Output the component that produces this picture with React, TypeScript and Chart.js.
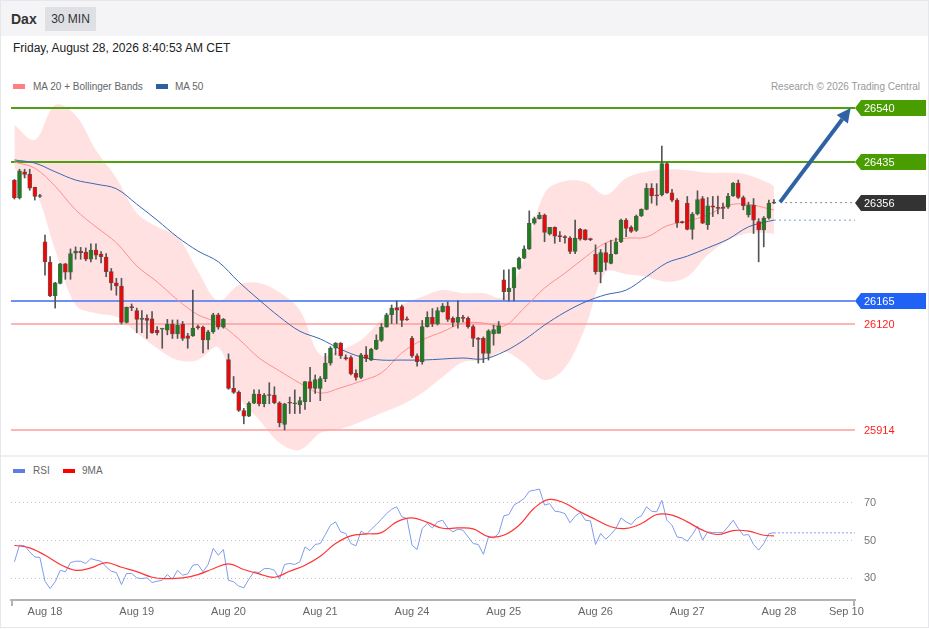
import React, { useEffect, useRef } from "react";
import Chart from "chart.js/auto";

// ---------- DATA ----------
const opens = [26400,26365,26416,26411,26386,26368,26280,26240,26175,26199,26237,26221,26258,26262,26260,26246,26264,26256,26250,26222,26200,26194,26123,26153,26146,26129,26131,26130,26108,26110,26108,26120,26101,26120,26097,26097,26114,26114,26089,26105,26138,26114,26051,25995,25987,25952,25941,25966,25984,25965,25983,25982,25967,25925,25967,25965,25963,25969,26008,25995,25995,26014,26044,26073,26083,26055,26055,26024,26016,26060,26050,26071,26088,26114,26138,26152,26154,26129,26092,26058,26047,26115,26133,26120,26144,26155,26131,26123,26133,26131,26115,26092,26092,26063,26101,26102,26206,26183,26190,26228,26248,26266,26316,26325,26332,26295,26308,26292,26290,26287,26261,26304,26303,26285,26256,26222,26259,26238,26257,26280,26322,26308,26302,26330,26343,26384,26371,26371,26432,26375,26361,26319,26355,26304,26334,26364,26313,26350,26347,26347,26347,26369,26394,26366,26332,26351,26319,26303,26326,26355];
const highs = [26401,26421,26421,26421,26386,26372,26293,26251,26201,26238,26238,26266,26270,26269,26268,26276,26276,26261,26257,26228,26209,26209,26153,26159,26151,26146,26138,26144,26115,26111,26129,26128,26128,26125,26102,26186,26118,26116,26108,26141,26141,26131,26062,26018,25990,25956,25969,25992,25992,25985,26006,25998,25969,25966,25978,25992,25978,26008,26036,26021,26018,26063,26076,26084,26084,26060,26058,26031,26063,26076,26073,26099,26121,26141,26157,26165,26157,26134,26096,26062,26127,26144,26150,26152,26160,26163,26134,26165,26137,26134,26118,26094,26095,26109,26118,26125,26225,26226,26230,26250,26272,26340,26328,26337,26334,26308,26309,26300,26292,26290,26322,26306,26304,26287,26274,26265,26277,26283,26287,26324,26325,26311,26332,26344,26393,26393,26393,26466,26434,26382,26364,26320,26368,26337,26379,26368,26366,26368,26369,26355,26374,26395,26400,26369,26357,26364,26325,26329,26361,26362];
const lows = [26363,26363,26404,26380,26361,26366,26215,26173,26151,26198,26207,26207,26246,26246,26243,26241,26246,26239,26212,26186,26176,26120,26122,26146,26103,26103,26092,26102,26099,26073,26099,26092,26092,26088,26073,26096,26110,26064,26071,26102,26110,26112,25993,25985,25950,25926,25940,25965,25961,25959,25965,25965,25920,25914,25946,25946,25946,25954,25969,25985,25971,26008,26040,26060,26053,26050,26021,26011,26014,26047,26049,26070,26086,26114,26121,26121,26115,26127,26055,26038,26042,26114,26115,26118,26143,26125,26115,26112,26124,26112,26076,26044,26045,26050,26079,26102,26167,26165,26165,26226,26247,26265,26314,26324,26280,26293,26277,26280,26277,26257,26257,26283,26283,26282,26217,26200,26225,26237,26256,26278,26290,26298,26300,26329,26342,26355,26351,26369,26374,26358,26308,26316,26303,26285,26332,26315,26304,26329,26334,26325,26345,26368,26364,26342,26328,26296,26241,26270,26324,26354];
const closes = [26365,26418,26411,26384,26368,26369,26241,26175,26200,26237,26221,26257,26262,26259,26246,26264,26254,26251,26222,26200,26194,26123,26153,26152,26129,26130,26127,26103,26103,26110,26120,26101,26118,26092,26092,26112,26113,26089,26105,26138,26114,26129,25995,25987,25952,25941,25966,25984,25965,25982,25981,25967,25928,25965,25966,25967,25971,26008,25995,26012,26014,26044,26073,26083,26058,26052,26023,26016,26060,26053,26071,26089,26114,26138,26151,26147,26127,26128,26058,26047,26115,26133,26120,26146,26155,26129,26123,26133,26131,26115,26092,26090,26063,26107,26109,26117,26183,26190,26230,26248,26266,26316,26325,26332,26298,26308,26291,26290,26288,26261,26287,26285,26284,26284,26222,26259,26240,26256,26280,26322,26306,26300,26330,26343,26384,26369,26369,26432,26375,26361,26317,26317,26304,26334,26362,26316,26350,26347,26345,26345,26369,26394,26366,26350,26351,26322,26303,26326,26355,26356];

// indicator samples (candle index -> value)
const bandIdx = [0,4,8,12,16,20,24,28,32,36,40,44,48,52,56,60,64,68,72,76,80,84,88,92,96,100,104,108,112,116,120,124,128,132,136,140,144,148,149];
const bbUpper = [26507,26478,26546,26526,26458,26404,26336,26309,26289,26223,26165,26196,26200,26182,26147,26060,26070,26089,26128,26157,26173,26186,26180,26180,26173,26248,26375,26398,26396,26371,26404,26416,26421,26419,26414,26414,26410,26394,26388];
const bbLower = [26423,26381,26264,26157,26141,26134,26103,26073,26050,26050,26075,25978,25934,25889,25875,25908,25916,25930,25947,25963,25986,26017,26046,26050,26066,26044,26011,26035,26114,26221,26217,26212,26202,26212,26254,26283,26297,26297,26295];
const ma20 = [26435,26423,26388,26342,26309,26278,26233,26202,26167,26138,26122,26091,26054,26029,26005,25986,25996,26009,26025,26064,26089,26105,26122,26122,26116,26151,26190,26219,26250,26278,26287,26289,26311,26320,26332,26351,26353,26344,26342];
const ma50 = [26439,26433,26416,26400,26392,26383,26353,26322,26289,26262,26241,26202,26167,26134,26106,26091,26071,26056,26050,26050,26050,26052,26054,26052,26066,26089,26118,26143,26163,26177,26186,26212,26239,26252,26268,26285,26309,26320,26322];

const rsi = [38.7,47.5,47.2,44.0,41.3,41.0,28.4,24.5,28.1,34.2,
 33.4,38.3,39.0,39.0,37.8,40.4,39.6,39.0,36.0,33.7,
 33.0,26.6,32.5,32.5,30.2,29.8,30.2,27.7,28.4,28.9,
 31.9,29.5,34.2,31.6,32.3,36.9,37.3,33.4,37.3,45.8,
 42.2,45.2,28.9,28.1,25.8,24.9,29.5,33.4,33.0,35.1,
 35.1,34.2,29.5,37.3,37.8,37.3,38.7,46.6,44.7,47.9,
 48.4,53.2,58.1,59.9,54.6,53.7,48.4,47.2,55.0,53.2,
 56.0,58.5,61.3,64.3,66.6,67.9,62.6,61.7,47.5,45.2,
 56.4,59.0,56.7,59.9,60.8,56.7,54.6,56.0,55.5,51.9,
 48.4,47.9,42.7,51.9,51.4,53.7,63.1,63.8,68.8,70.5,
 72.3,76.2,76.7,77.3,68.8,69.6,65.6,65.2,64.3,59.4,
 62.9,64.9,60.8,60.4,47.9,53.7,50.7,53.2,56.4,62.0,
 59.9,58.5,61.7,63.1,67.9,65.6,65.2,71.4,60.8,58.1,
 51.9,51.4,49.6,53.2,57.6,50.2,54.6,54.2,54.2,54.2,
 57.3,60.8,56.4,52.8,53.2,47.9,44.9,48.4,53.7,54.1];
const ma9Idx = [0,3,6,9,12,15,18,21,24,27,30,33,36,39,42,45,48,51,54,57,60,63,66,69,72,75,78,81,84,87,90,93,96,99,102,105,108,111,114,117,120,123,126,129,132,135,138,141,144,147,149];
const ma9 = [47.5,46.1,42.2,37.3,34.2,35.5,38.3,35.8,33.5,30.5,29.8,30.2,31.9,35.0,37.6,34.6,32.3,30.5,33.7,36.9,41.7,48.4,52.5,53.5,54.2,59.9,62.0,59.6,56.5,56.7,56.2,52.1,52.8,58.1,67.3,71.8,69.8,65.2,61.2,57.3,56.4,59.0,63.8,63.5,59.9,55.5,53.2,55.3,55.0,52.8,52.5];

const dayIdx = [6, 24, 42, 60, 78, 96, 114, 132, 150, 163.2];
const dayLabels = ["Aug 18", "Aug 19", "Aug 20", "Aug 21", "Aug 24", "Aug 25", "Aug 26", "Aug 27", "Aug 28", "Sep 10"];
const rsiTicks = [30, 50, 70];

const levelValues = [26540, 26435, 26165, 26120, 25914];
const levelColors = ["#4fa00e", "#4fa00e", "#6f90ee", "#ff9d9d", "#ff9d9d"];
const levelWidths = [2, 2, 2, 1.5, 1.5];
const tagValues = [26540, 26435, 26356, 26165];
const tagColors = ["#4a9d00", "#4a9d00", "#333333", "#1f62f5"];
const textLevels = [26120, 25914];

const lastPrice = 26356;
const lastMa50 = 26322;
const lastRsi = 54.1;
const arrowFrom = [150.2, 26357];
const arrowTo = [164.05, 26540];

const xMin = -0.67;
const xMax = 164.9;
const priceMin = 25865.4;
const priceMax = 26565.3;
const rsiMin = 18.42;
const rsiMax = 78.95;

const FONT = '"Liberation Sans", Arial, Helvetica, sans-serif';

export default function App() {
  const mainRef = useRef<HTMLCanvasElement | null>(null);
  const rsiRef = useRef<HTMLCanvasElement | null>(null);

  useEffect(() => {
    Chart.defaults.font.family = FONT;
    const idx = closes.map((_, i) => i);
    const bodyColors = idx.map((i) => (closes[i] >= opens[i] ? "#1f7d1f" : "#e80a0a"));

    const overlay = {
      id: "overlay",
      afterDatasetsDraw(chart: any) {
        const { ctx, scales } = chart;
        const x = scales.x, y = scales.y;
        const x0 = x.getPixelForValue(arrowFrom[0]);
        const y0 = y.getPixelForValue(arrowFrom[1]);
        const x1 = x.getPixelForValue(arrowTo[0]);
        const y1 = y.getPixelForValue(arrowTo[1]);
        const ang = Math.atan2(y1 - y0, x1 - x0);
        const hl = 14, hw = 7;
        const bx = x1 - hl * Math.cos(ang), by = y1 - hl * Math.sin(ang);
        ctx.save();
        ctx.strokeStyle = "#2f62a4";
        ctx.fillStyle = "#2f62a4";
        ctx.lineWidth = 4;
        ctx.beginPath();
        ctx.moveTo(x0, y0);
        ctx.lineTo(bx, by);
        ctx.stroke();
        ctx.beginPath();
        ctx.moveTo(x1, y1);
        ctx.lineTo(bx + hw * Math.sin(ang), by - hw * Math.cos(ang));
        ctx.lineTo(bx - hw * Math.sin(ang), by + hw * Math.cos(ang));
        ctx.closePath();
        ctx.fill();
        ctx.restore();
      },
      afterDraw(chart: any) {
        const { ctx, scales, chartArea } = chart;
        const y = scales.y;
        const left = chartArea.right;
        ctx.save();
        ctx.font = "11px " + FONT;
        ctx.textBaseline = "middle";
        tagValues.forEach((v, k) => {
          const yy = Math.round(y.getPixelForValue(v));
          ctx.fillStyle = tagColors[k];
          ctx.beginPath();
          ctx.moveTo(left, yy);
          ctx.lineTo(left + 6, yy - 8);
          ctx.lineTo(left + 71, yy - 8);
          ctx.lineTo(left + 71, yy + 8);
          ctx.lineTo(left + 6, yy + 8);
          ctx.closePath();
          ctx.fill();
          ctx.fillStyle = "#ffffff";
          ctx.fillText(String(v), left + 9, yy + 0.5);
        });
        textLevels.forEach((v) => {
          const yy = y.getPixelForValue(v);
          ctx.fillStyle = "#ff1f1f";
          ctx.fillText(String(v), left + 9, yy + 0.5);
        });
        ctx.restore();
      },
    };

    const bandPts = (arr: number[]) => bandIdx.map((i, k) => ({ x: i, y: arr[k] }));

    const levelSets = levelValues.map((v, k) => ({
      type: "line",
      data: [{ x: xMin, y: v }, { x: xMax, y: v }],
      borderColor: levelColors[k],
      borderWidth: levelWidths[k],
      pointRadius: 0,
      fill: false,
      order: 6,
    }));

    const main = new Chart(mainRef.current as HTMLCanvasElement, {
      type: "bar",
      data: {
        datasets: [
          {
            type: "line",
            data: bandPts(bbUpper),
            borderWidth: 0,
            borderColor: "rgba(0,0,0,0)",
            backgroundColor: "rgba(255,165,165,0.33)",
            fill: "+1",
            pointRadius: 0,
            tension: 0.35,
            order: 10,
          },
          {
            type: "line",
            data: bandPts(bbLower),
            borderWidth: 0,
            borderColor: "rgba(0,0,0,0)",
            fill: false,
            pointRadius: 0,
            tension: 0.35,
            order: 9,
          },
          ...levelSets,
          {
            type: "line",
            data: [{ x: arrowFrom[0], y: lastPrice }, { x: xMax, y: lastPrice }],
            borderColor: "#888888",
            borderWidth: 1,
            borderDash: [2, 3],
            pointRadius: 0,
            order: 5,
          },
          {
            type: "line",
            data: [{ x: 149, y: lastMa50 }, { x: xMax, y: lastMa50 }],
            borderColor: "#7d97d6",
            borderWidth: 1,
            borderDash: [2, 3],
            pointRadius: 0,
            order: 5,
          },
          {
            type: "line",
            data: bandPts(ma20),
            borderColor: "#ff8e8e",
            borderWidth: 1,
            pointRadius: 0,
            tension: 0.35,
            fill: false,
            order: 4,
          },
          {
            type: "line",
            data: bandPts(ma50),
            borderColor: "#3a67b0",
            borderWidth: 1,
            pointRadius: 0,
            tension: 0.35,
            fill: false,
            order: 3,
          },
          {
            type: "bar",
            data: idx.map((i) => ({ x: i, y: [lows[i], highs[i]] })),
            backgroundColor: "#555555",
            barThickness: 1,
            grouped: false,
            minBarLength: 1,
            order: 2,
          },
          {
            type: "bar",
            data: idx.map((i) => ({ x: i, y: [opens[i], closes[i]] })),
            backgroundColor: bodyColors,
            borderColor: "rgba(70,70,70,0.85)",
            borderWidth: 0.7,
            borderSkipped: false,
            barThickness: 4,
            grouped: false,
            minBarLength: 1,
            order: 1,
          },
        ] as any,
      },
      options: {
        responsive: false,
        maintainAspectRatio: false,
        animation: false,
        layout: { padding: { left: 11, right: 74, top: 0, bottom: 0 } },
        plugins: { legend: { display: false }, tooltip: { enabled: false } },
        scales: {
          x: { type: "linear", min: xMin, max: xMax, offset: false, display: false },
          y: { type: "linear", min: priceMin, max: priceMax, display: false },
        },
      } as any,
      plugins: [overlay],
    });

    const capPlugin = {
      id: "caps",
      afterDraw(chart: any) {
        const { ctx, chartArea } = chart;
        ctx.save();
        ctx.strokeStyle = "#b3b3b3";
        ctx.lineWidth = 2;
        [chartArea.left + 1, chartArea.right - 1].forEach((px: number) => {
          ctx.beginPath();
          ctx.moveTo(px, chartArea.bottom);
          ctx.lineTo(px, chartArea.bottom + 6);
          ctx.stroke();
        });
        ctx.restore();
      },
    };

    const rsiChart = new Chart(rsiRef.current as HTMLCanvasElement, {
      type: "line",
      data: {
        datasets: [
          {
            data: idx.map((i) => ({ x: i, y: rsi[i] })),
            borderColor: "#7f9bef",
            borderWidth: 1,
            pointRadius: 0,
            tension: 0,
            order: 2,
          },
          {
            data: ma9Idx.map((i, k) => ({ x: i, y: ma9[k] })),
            borderColor: "#ff3535",
            borderWidth: 1.2,
            pointRadius: 0,
            tension: 0.4,
            order: 1,
          },
          {
            data: [{ x: 149, y: lastRsi }, { x: xMax, y: lastRsi }],
            borderColor: "#aebff3",
            borderWidth: 1.5,
            borderDash: [2, 2],
            pointRadius: 0,
            order: 3,
          },
        ],
      },
      options: {
        responsive: false,
        maintainAspectRatio: false,
        animation: false,
        layout: { padding: { left: 11, right: 0, top: 0, bottom: 0 } },
        plugins: { legend: { display: false }, tooltip: { enabled: false } },
        scales: {
          x: {
            type: "linear",
            min: xMin,
            max: xMax,
            offset: false,
            grid: { display: false, drawTicks: false },
            border: { display: true, color: "#b3b3b3", width: 2 },
            afterBuildTicks: (scale: any) => {
              scale.ticks = dayIdx.map((v) => ({ value: v }));
            },
            afterFit: (scale: any) => {
              scale.height = 25;
              scale.paddingLeft = 0;
              scale.paddingRight = 0;
            },
            ticks: {
              autoSkip: false,
              maxRotation: 0,
              minRotation: 0,
              padding: 5,
              color: "#666666",
              font: { size: 11, family: FONT },
              callback: (value: any) => {
                const k = dayIdx.indexOf(value);
                return k >= 0 ? dayLabels[k] : "";
              },
            },
          },
          y: {
            type: "linear",
            position: "right",
            min: rsiMin,
            max: rsiMax,
            grid: { color: "#c4c4c4", drawTicks: false, lineWidth: 1 },
            border: { display: false, dash: [1, 3] },
            afterBuildTicks: (scale: any) => {
              scale.ticks = rsiTicks.map((v) => ({ value: v }));
            },
            afterFit: (scale: any) => {
              scale.width = 74;
              scale.paddingTop = 0;
              scale.paddingBottom = 0;
            },
            ticks: {
              padding: 9,
              color: "#777777",
              font: { size: 11, family: FONT },
              callback: (value: any) => String(value),
            },
          },
        },
      } as any,
      plugins: [capPlugin],
    });

    return () => {
      main.destroy();
      rsiChart.destroy();
    };
  }, []);

  const txt = { position: "absolute" as const, whiteSpace: "nowrap" as const };

  return (
    <div
      style={{
        position: "absolute",
        left: 0,
        top: 0,
        width: 929,
        height: 629,
        background: "#ffffff",
        fontFamily: FONT,
        overflow: "hidden",
      }}
    >
      <div style={{ position: "absolute", left: 0, top: 0, width: 929, height: 36, background: "#f4f4f6" }} />
      <div style={{ ...txt, left: 11, top: 10, fontSize: 14, fontWeight: 700, color: "#333", lineHeight: "18px" }}>Dax</div>
      <div
        style={{
          ...txt,
          left: 45,
          top: 7,
          width: 51,
          height: 24,
          background: "#dfe0e4",
          color: "#333",
          fontSize: 12,
          lineHeight: "24px",
          textAlign: "center",
        }}
      >
        30 MIN
      </div>
      <div style={{ ...txt, left: 13, top: 41, fontSize: 12, color: "#222", lineHeight: "14px" }}>
        Friday, August 28, 2026 8:40:53 AM CET
      </div>

      <div style={{ position: "absolute", left: 13, top: 84, width: 12, height: 5, background: "#ff8080" }} />
      <div style={{ ...txt, left: 33, top: 81, fontSize: 10, color: "#666", lineHeight: "12px" }}>MA 20 + Bollinger Bands</div>
      <div style={{ position: "absolute", left: 156, top: 84, width: 12, height: 5, background: "#2e5f9e" }} />
      <div style={{ ...txt, left: 175, top: 81, fontSize: 10, color: "#666", lineHeight: "12px" }}>MA 50</div>
      <div style={{ ...txt, right: 9, top: 81, fontSize: 10, color: "#999", lineHeight: "12px" }}>
        Research © 2026 Trading Central
      </div>

      <canvas
        ref={mainRef}
        width={929}
        height={360}
        style={{ position: "absolute", left: 0, top: 95, width: 929, height: 360 }}
      />

      <div style={{ position: "absolute", left: 0, top: 455, width: 929, height: 2, background: "#eff0f2" }} />

      <div style={{ position: "absolute", left: 13, top: 469, width: 12, height: 4, background: "#5b7fe8" }} />
      <div style={{ ...txt, left: 33, top: 465, fontSize: 10, color: "#666", lineHeight: "12px" }}>RSI</div>
      <div style={{ position: "absolute", left: 63, top: 469, width: 12, height: 4, background: "#ff0000" }} />
      <div style={{ ...txt, left: 82, top: 465, fontSize: 10, color: "#666", lineHeight: "12px" }}>9MA</div>

      <canvas
        ref={rsiRef}
        width={929}
        height={139}
        style={{ position: "absolute", left: 0, top: 486, width: 929, height: 139 }}
      />

      <div
        style={{
          position: "absolute",
          left: 0,
          top: 0,
          width: 929,
          height: 628,
          boxSizing: "border-box",
          border: "1px solid #e6e7ea",
          pointerEvents: "none",
        }}
      />
    </div>
  );
}
